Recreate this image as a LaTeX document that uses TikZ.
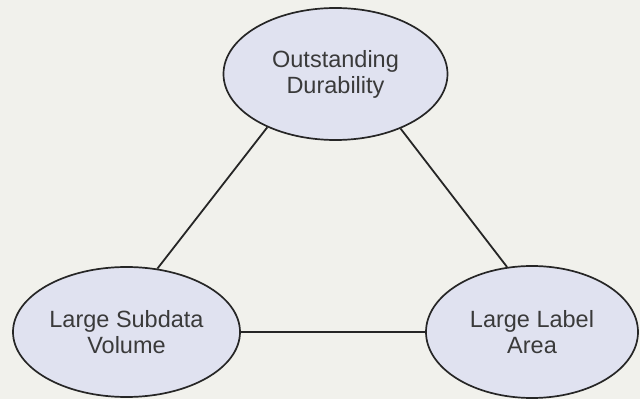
\documentclass[tikz,border=0pt]{standalone}
\usepackage{fontspec}
\setmainfont{Liberation Sans}
\usepackage{xcolor}
\usepackage{tikz}
\usetikzlibrary{calc,shapes.geometric}
\definecolor{paper}{HTML}{F1F1EC}
\definecolor{lilac}{HTML}{E0E2F0}
\definecolor{ink}{HTML}{262626}
\definecolor{txt}{HTML}{3A3A3A}
\tikzset{
  bubble/.style={ellipse, draw=ink, fill=lilac, line width=1.7pt, inner sep=0pt,
    align=center, text=txt, font=\fontsize{23.5}{26}\selectfont},
  link/.style={draw=ink, line width=1.8pt}
}

\begin{document}
\begin{tikzpicture}[x=1pt,y=1pt]
  \fill[paper] (0,0) rectangle (640,399);
  \useasboundingbox (0,0) rectangle (640,399);

  \coordinate (T) at (335.5,325);
  \coordinate (L) at (126.5,67);
  \coordinate (R) at (532,67);

  \node[bubble, minimum width=224pt, minimum height=132pt] (dur) at (T) {Outstanding\\Durability};
  \node[bubble, minimum width=227pt, minimum height=130pt] (vol) at (L) {Large Subdata\\Volume};
  \node[bubble, minimum width=212pt, minimum height=132pt] (area) at (R) {Large Label\\Area};

  \draw[link] (dur.218) -- (vol.64);
  \draw[link] (dur.320) -- (area.111);
  \draw[link] (vol.east) -- (area.west);
\end{tikzpicture}
\end{document}
